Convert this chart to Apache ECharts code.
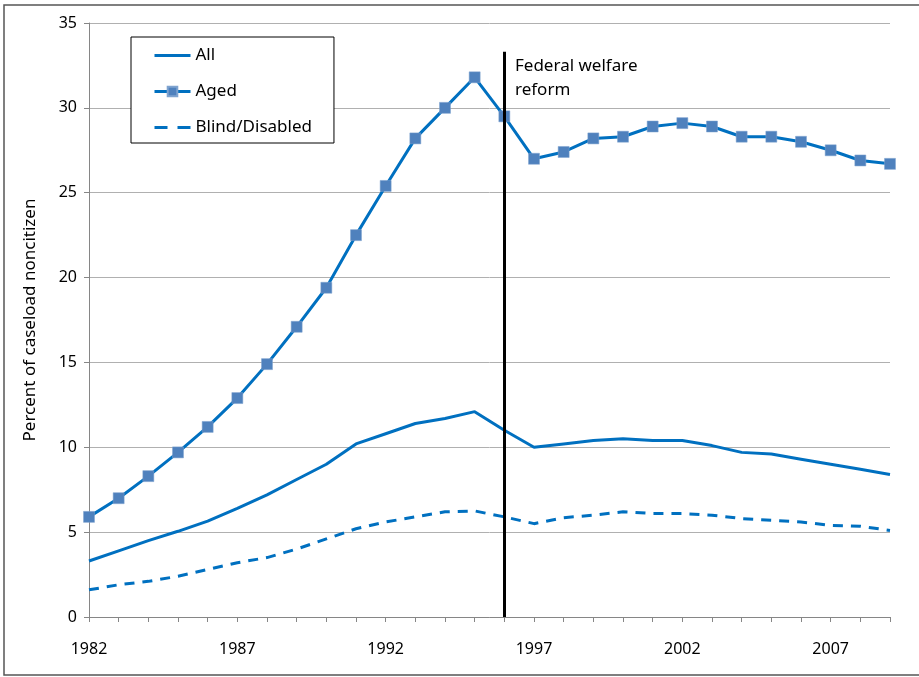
<!DOCTYPE html>
<html>
<head>
    <meta charset="utf-8">
    <title>Noncitizen caseload</title>
    <script src="https://cdn.jsdelivr.net/npm/echarts@6/dist/echarts.min.js"></script>
    <style>
        body { margin: 0; background: #fff; }
        #chart { width: 919px; height: 677px; }
    </style>
</head>
<body>
    <div id="chart"></div>
    <script type="text/javascript">
        var years = ['1982', '1983', '1984', '1985', '1986', '1987', '1988', '1989', '1990', '1991',
            '1992', '1993', '1994', '1995', '1996', '1997', '1998', '1999', '2000', '2001',
            '2002', '2003', '2004', '2005', '2006', '2007', '2008', '2009'];
        var all_values = [3.3, 3.9, 4.5, 5.05, 5.65, 6.4, 7.2, 8.1, 9.0, 10.2,
            10.8, 11.4, 11.7, 12.1, 11.0, 10.0, 10.2, 10.4, 10.5, 10.4,
            10.4, 10.1, 9.7, 9.6, 9.3, 9.0, 8.7, 8.4];
        var aged_values = [5.9, 7.0, 8.3, 9.7, 11.2, 12.9, 14.9, 17.1, 19.4, 22.5,
            25.4, 28.2, 30.0, 31.8, 29.5, 27.0, 27.4, 28.2, 28.3, 28.9,
            29.1, 28.9, 28.3, 28.3, 28.0, 27.5, 26.9, 26.7];
        var blind_values = [1.6, 1.9, 2.1, 2.4, 2.8, 3.2, 3.5, 4.0, 4.6, 5.2,
            5.6, 5.9, 6.2, 6.25, 5.9, 5.5, 5.85, 6.0, 6.2, 6.1,
            6.1, 6.0, 5.8, 5.7, 5.6, 5.4, 5.35, 5.1];
        var reform_year = '1996';
        var reform_top = 33.3;

        var font = 'Noto Sans';
        var line_color = '#0070C0';
        var marker_color = '#4F81BD';
        // legend icons: plain line / two dashes (no marker)
        var solid_icon = 'path://M0,0H36V3H0Z';
        var dash_icon = 'path://M0,0H13V3H0Z M23,0H36V3H23Z';

        var chart = echarts.init(document.getElementById('chart'), null, { renderer: 'canvas' });

        var option = {
            animation: false,
            textStyle: { fontFamily: font, color: '#000' },
            grid: { left: 89, right: 29, top: 23, bottom: 60 },
            legend: {
                orient: 'vertical',
                left: 131,
                top: 37,
                itemWidth: 36,
                itemHeight: 12,
                itemGap: 19,
                padding: [10, 22, 7, 22],
                borderColor: '#000',
                borderWidth: 1,
                backgroundColor: '#fff',
                textStyle: { fontFamily: font, fontSize: 17, color: '#000' },
                data: [
                    { name: 'All', icon: solid_icon, itemStyle: { color: line_color } },
                    { name: 'Aged', lineStyle: { width: 3 } },
                    { name: 'Blind/Disabled', icon: dash_icon, itemStyle: { color: line_color } }
                ]
            },
            xAxis: {
                type: 'category',
                data: years,
                boundaryGap: false,
                axisLine: { lineStyle: { color: '#868686', width: 1 } },
                axisTick: { show: true, interval: 0, length: 5, lineStyle: { color: '#868686' } },
                axisLabel: { interval: 4, fontSize: 16, color: '#000', margin: 24, fontFamily: font },
                splitLine: { show: false }
            },
            yAxis: {
                type: 'value',
                min: 0,
                max: 35,
                interval: 5,
                name: 'Percent of caseload noncitizen',
                nameLocation: 'middle',
                nameGap: 50,
                nameTextStyle: { fontSize: 17, color: '#000', fontFamily: font },
                axisLine: { show: true, lineStyle: { color: '#868686', width: 1 } },
                axisTick: { show: true, length: 5, lineStyle: { color: '#868686' } },
                axisLabel: { fontSize: 16, color: '#000', margin: 12, fontFamily: font },
                splitLine: { lineStyle: { color: '#b0b0b0', width: 1 } }
            },
            series: [
                {
                    name: 'All',
                    type: 'line',
                    data: all_values,
                    symbol: 'none',
                    lineStyle: { color: line_color, width: 3 },
                    itemStyle: { color: line_color },
                    markLine: {
                        silent: true,
                        symbol: ['none', 'none'],
                        label: { show: false },
                        lineStyle: { color: '#000', width: 3, type: 'solid' },
                        data: [[{ coord: [reform_year, 0] }, { coord: [reform_year, reform_top] }]]
                    }
                },
                {
                    name: 'Aged',
                    type: 'line',
                    data: aged_values,
                    symbol: 'rect',
                    symbolSize: 11,
                    showAllSymbol: true,
                    lineStyle: { color: line_color, width: 3 },
                    itemStyle: { color: marker_color, borderColor: '#7fa3cf', borderWidth: 0.5 }
                },
                {
                    name: 'Blind/Disabled',
                    type: 'line',
                    data: blind_values,
                    symbol: 'none',
                    lineStyle: { color: line_color, width: 3, type: [10, 8] },
                    itemStyle: { color: line_color }
                }
            ],
            graphic: [
                {
                    type: 'text',
                    left: 515,
                    top: 54,
                    style: {
                        text: 'Federal welfare\nreform',
                        fontFamily: font,
                        fontSize: 17,
                        lineHeight: 24,
                        fill: '#000'
                    }
                },
                {
                    type: 'polyline',
                    shape: { points: [[919, 5], [4, 5], [4, 675], [919, 675]] },
                    style: { stroke: '#555', lineWidth: 1.5, fill: null }
                }
            ]
        };

        chart.setOption(option);
    </script>
</body>
</html>
